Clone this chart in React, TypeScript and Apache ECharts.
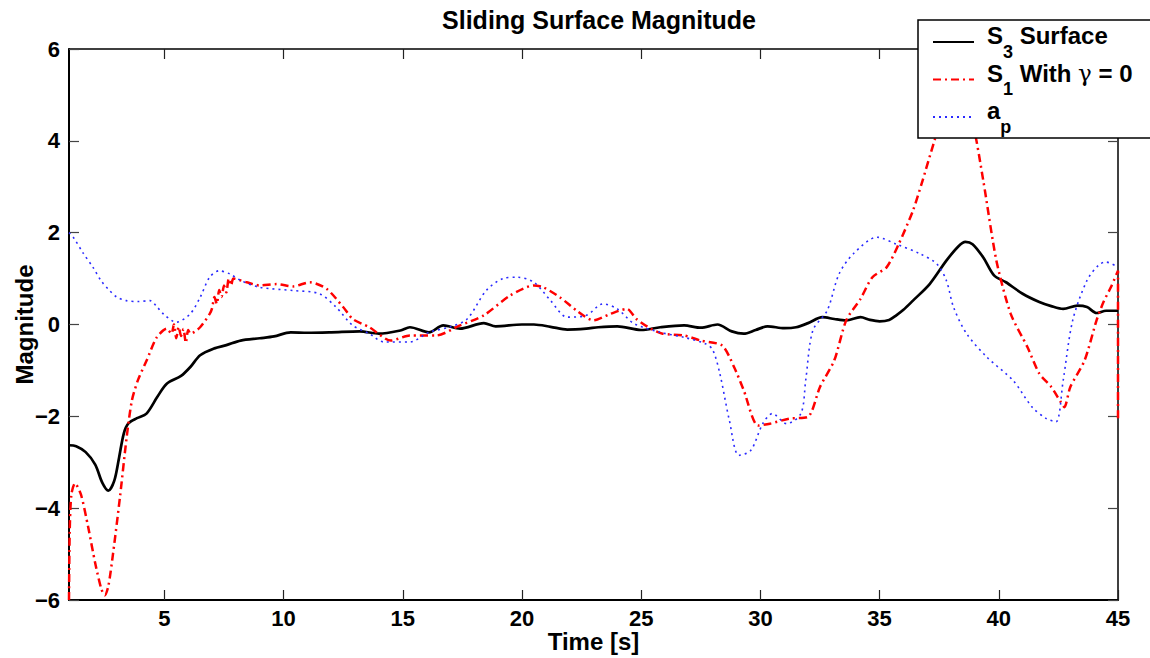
import React, { useEffect, useRef } from "react";
import * as echarts from "echarts";

const titleText = "Sliding Surface Magnitude";
const xName = "Time [s]";
const yName = "Magnitude";
const xTickValues = [5, 10, 15, 20, 25, 30, 35, 40, 45];
const seriesNames = ["S3", "S1", "ap"];

// S3 Surface (solid black)
const s3X = [1.0, 1.3, 1.7, 2.1, 2.4, 2.65, 2.9, 3.1, 3.3, 3.5, 3.85, 4.25, 4.7, 5.1, 5.7, 6.1, 6.5, 7.1, 7.6, 8.2, 9.0, 9.6, 10.3, 11.0, 12.0, 13.2, 14.0, 14.9, 15.3, 16.1, 16.7, 17.4, 18.4, 18.9, 20.0, 20.5, 21.2, 21.9, 22.7, 23.2, 24.0, 25.0, 25.8, 26.8, 27.5, 28.2, 28.8, 29.3, 29.8, 30.3, 31.0, 31.5, 32.0, 32.6, 33.1, 33.6, 34.2, 34.6, 35.0, 35.4, 35.7, 36.0, 36.4, 37.1, 37.8, 38.3, 38.6, 38.9, 39.35, 39.8, 40.3, 41.0, 41.7, 42.2, 42.7, 43.3, 43.7, 44.1, 44.5, 45.0];
const s3Y = [-2.63, -2.65, -2.78, -3.05, -3.45, -3.62, -3.4, -2.9, -2.37, -2.15, -2.04, -1.94, -1.58, -1.29, -1.12, -0.92, -0.67, -0.52, -0.45, -0.35, -0.3, -0.26, -0.17, -0.18, -0.17, -0.15, -0.2, -0.13, -0.06, -0.17, -0.02, -0.09, 0.03, -0.04, 0.0, 0.0, -0.05, -0.11, -0.09, -0.06, -0.04, -0.12, -0.06, -0.02, -0.07, 0.0, -0.15, -0.2, -0.12, -0.04, -0.08, -0.06, 0.03, 0.16, 0.12, 0.09, 0.16, 0.1, 0.07, 0.1, 0.2, 0.32, 0.52, 0.88, 1.39, 1.7, 1.8, 1.75, 1.46, 1.07, 0.92, 0.67, 0.49, 0.4, 0.34, 0.41, 0.38, 0.25, 0.3, 0.3];

// S1 With gamma = 0 (red dash-dot)
const s1X = [1.0, 1.03, 1.1, 1.25, 1.5, 1.8, 2.1, 2.35, 2.5, 2.65, 2.85, 3.14, 3.42, 3.64, 3.9, 4.26, 4.68, 5.1, 5.3, 5.4, 5.5, 5.6, 5.7, 5.8, 5.9, 6.0, 6.1, 6.5, 6.9, 7.0, 7.1, 7.2, 7.3, 7.4, 7.5, 7.6, 7.7, 7.8, 7.9, 8.45, 9.0, 9.7, 10.4, 11.1, 11.8, 12.5, 12.9, 13.6, 14.5, 15.3, 16.4, 17.4, 18.4, 19.5, 20.5, 20.9, 21.6, 22.3, 23.0, 23.7, 24.4, 24.8, 25.4, 25.9, 26.8, 27.5, 28.4, 28.9, 29.3, 29.9, 30.4, 31.2, 32.0, 32.5, 33.1, 33.6, 34.2, 34.7, 35.3, 35.8, 36.4, 36.8, 37.3, 37.8, 38.3, 38.9, 39.35, 39.9, 40.5, 41.2, 41.7, 42.2, 42.6, 42.75, 43.0, 43.6, 44.1, 44.4, 44.7, 45.0, 45.0];
const s1Y = [-6.0, -4.5, -3.7, -3.46, -3.7, -4.4, -5.2, -5.75, -5.9, -5.7, -4.98, -3.75, -2.45, -1.65, -1.2, -0.78, -0.28, -0.09, -0.2, 0.0, -0.3, -0.05, -0.25, -0.1, -0.4, -0.12, -0.2, -0.06, 0.23, 0.35, 0.6, 0.45, 0.75, 0.6, 0.85, 0.7, 1.0, 0.85, 1.0, 0.92, 0.85, 0.88, 0.83, 0.92, 0.78, 0.38, 0.12, -0.06, -0.35, -0.24, -0.24, -0.02, 0.2, 0.63, 0.85, 0.81, 0.59, 0.3, 0.09, 0.23, 0.34, 0.12, -0.09, -0.2, -0.24, -0.35, -0.46, -0.93, -1.43, -2.2, -2.16, -2.05, -2.01, -1.36, -0.78, 0.09, 0.56, 1.03, 1.25, 1.75, 2.48, 3.13, 4.0, 4.8, 5.2, 4.4, 3.13, 1.39, 0.23, -0.49, -1.07, -1.36, -1.69, -1.8, -1.36, -0.78, 0.09, 0.5, 0.81, 1.17, -2.1];

// a_p (blue dotted)
const apX = [1.0, 1.18, 1.6, 2.0, 2.35, 2.7, 3.0, 3.4, 3.9, 4.4, 4.7, 4.96, 5.5, 6.08, 6.5, 6.9, 7.3, 7.75, 8.2, 9.0, 10.4, 11.5, 12.2, 12.9, 13.6, 14.2, 15.3, 16.1, 17.0, 17.7, 18.5, 19.2, 19.8, 20.5, 21.2, 21.9, 22.7, 23.4, 24.0, 24.7, 25.8, 26.8, 27.7, 28.0, 28.3, 28.7, 29.1, 29.6, 30.1, 30.5, 31.1, 31.7, 31.9, 32.2, 32.8, 33.3, 33.9, 34.9, 35.7, 36.7, 37.4, 37.8, 38.1, 38.65, 39.5, 40.6, 41.4, 42.0, 42.4, 42.7, 43.1, 43.7, 44.2, 44.5, 45.0];
const apY = [2.0, 1.9, 1.55, 1.25, 0.95, 0.74, 0.6, 0.52, 0.5, 0.52, 0.38, 0.23, 0.05, 0.23, 0.59, 1.03, 1.17, 1.1, 0.96, 0.81, 0.74, 0.67, 0.38, -0.02, -0.2, -0.38, -0.38, -0.17, -0.05, 0.12, 0.74, 1.0, 1.03, 0.92, 0.52, 0.16, 0.2, 0.45, 0.34, 0.02, -0.17, -0.28, -0.42, -0.55, -1.07, -2.09, -2.85, -2.74, -2.16, -1.94, -2.16, -1.94, -1.22, -0.13, 0.3, 1.1, 1.54, 1.9, 1.75, 1.54, 1.32, 0.96, 0.38, -0.2, -0.71, -1.22, -1.8, -2.05, -2.12, -1.22, 0.09, 0.96, 1.3, 1.36, 1.25];

const FONT = "'Liberation Sans', Arial, Helvetica, sans-serif";

function zip(xs: number[], ys: number[]) {
  return xs.map((x, i) => [x, ys[i]]);
}

export default function App() {
  const ref = useRef<HTMLDivElement>(null);
  useEffect(() => {
    if (!ref.current) return;
    const chart = echarts.init(ref.current, null, { renderer: "svg" });
    const minus = (v: number) => String(v).replace("-", "\u2212");
    const axisCommon = {
      type: "value" as const,
      splitLine: { show: false },
    };
    chart.setOption({
      animation: false,
      backgroundColor: "#ffffff",
      title: {
        text: titleText,
        left: 594,
        top: 2,
        textAlign: "center",
        textStyle: { fontFamily: FONT, fontWeight: "bold", fontSize: 25, color: "#000" },
      },
      grid: { left: 69, right: 32, top: 49, bottom: 58, containLabel: false, outerBoundsMode: "none" },
      legend: {
        orient: "vertical",
        left: 918,
        top: 20,
        backgroundColor: "#ffffff",
        borderColor: "#000000",
        borderWidth: 1.5,
        borderRadius: 0,
        padding: [3.5, 80, 2.5, 14],
        itemWidth: 41,
        itemHeight: 14,
        itemGap: 0.5,
        data: seriesNames,
        itemStyle: { opacity: 0 },
        formatter: (name: string) => {
          if (name === "S3") return "{b|S}{s|3}{b| Surface}";
          if (name === "S1") return "{b|S}{s|1}{b| With }{g|\u03b3}{b| = 0}";
          return "{b|a}{s|p}";
        },
        textStyle: {
          fontFamily: FONT,
          color: "#000",
          padding: [0, 0, 0, 8],
          rich: {
            b: { fontFamily: FONT, fontSize: 24, fontWeight: "bold", color: "#000", verticalAlign: "top" },
            g: { fontFamily: "'DejaVu Serif', serif", fontSize: 23, fontWeight: "normal", color: "#000", verticalAlign: "top" },
            s: { fontFamily: FONT, fontSize: 18, fontWeight: "bold", color: "#000", verticalAlign: "bottom", padding: [19, 0, 0, 0] },
          },
        },
      },
      xAxis: [
        {
          ...axisCommon,
          min: 1,
          max: 45,
          position: "bottom",
          name: xName,
          nameLocation: "middle",
          nameGap: 29,
          nameMoveOverlap: false,
          nameTextStyle: { fontFamily: FONT, fontWeight: "bold", fontSize: 24, color: "#000" },
          axisLine: { show: true, onZero: false, lineStyle: { color: "#000", width: 2 } },
          axisTick: { show: true, inside: true, length: 10, customValues: xTickValues, lineStyle: { color: "#222", width: 1.2 } },
          axisLabel: { show: true, customValues: xTickValues, margin: 7, fontFamily: FONT, fontWeight: "bold", fontSize: 22, color: "#000" },
        },
        {
          ...axisCommon,
          min: 1,
          max: 45,
          position: "top",
          axisLine: { show: true, onZero: false, lineStyle: { color: "#000", width: 1.5 } },
          axisTick: { show: true, inside: true, length: 10, customValues: xTickValues, lineStyle: { color: "#222", width: 1.2 } },
          axisLabel: { show: false },
        },
      ],
      yAxis: [
        {
          ...axisCommon,
          min: -6,
          max: 6,
          interval: 2,
          position: "left",
          name: yName,
          nameLocation: "middle",
          nameGap: 33,
          nameMoveOverlap: false,
          nameRotate: 90,
          nameTextStyle: { fontFamily: FONT, fontWeight: "bold", fontSize: 24, color: "#000" },
          axisLine: { show: true, onZero: false, lineStyle: { color: "#000", width: 2 } },
          axisTick: { show: true, inside: true, length: 10, lineStyle: { color: "#444", width: 1.2 } },
          axisLabel: { show: true, margin: 9, fontFamily: FONT, fontWeight: "bold", fontSize: 22, color: "#000", formatter: minus },
        },
        {
          ...axisCommon,
          min: -6,
          max: 6,
          interval: 2,
          position: "right",
          axisLine: { show: true, onZero: false, lineStyle: { color: "#000", width: 1.5 } },
          axisTick: { show: true, inside: true, length: 10, lineStyle: { color: "#444", width: 1.2 } },
          axisLabel: { show: false },
        },
      ],
      series: [
        {
          name: "S3",
          type: "line",
          data: zip(s3X, s3Y),
          symbol: "none",
          showSymbol: false,
          smooth: 0.3,
          lineStyle: { color: "#000000", width: 2.7, type: "solid" },
          itemStyle: { color: "#000000" },
        },
        {
          name: "S1",
          type: "line",
          data: zip(s1X, s1Y),
          symbol: "none",
          showSymbol: false,
          smooth: 0.25,
          lineStyle: { color: "#ff0000", width: 2.5, type: [8, 4, 2, 4] },
          itemStyle: { color: "#ff0000" },
        },
        {
          name: "ap",
          type: "line",
          data: zip(apX, apY),
          symbol: "none",
          showSymbol: false,
          smooth: 0.3,
          lineStyle: { color: "#2a2aff", width: 1.6, type: [2, 4] },
          itemStyle: { color: "#2a2aff" },
        },
      ],
    });
    return () => chart.dispose();
  }, []);
  return (
    <div
      ref={ref}
      style={{ position: "fixed", left: 0, top: 0, width: 1150, height: 658, background: "#fff" }}
    />
  );
}
